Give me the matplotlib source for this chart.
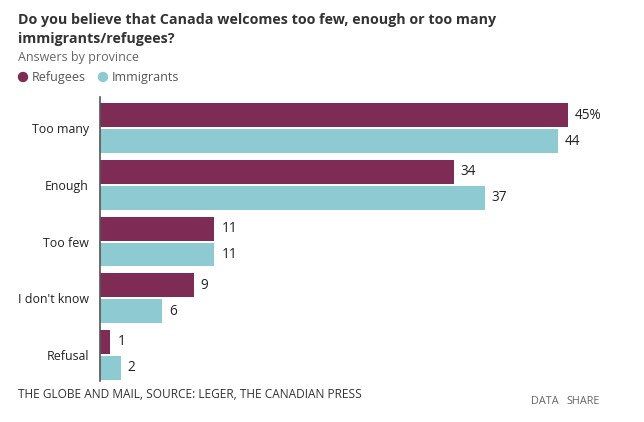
import matplotlib
matplotlib.use("Agg")
import matplotlib.pyplot as plt
from matplotlib.patches import Ellipse
import numpy as np

categories = ["Too many", "Enough", "Too few", "I don't know", "Refusal"]
refugees = [45, 34, 11, 9, 1]
immigrants = [44, 37, 11, 6, 2]
value_labels_ref = ["45%", "34", "11", "9", "1"]
value_labels_imm = ["44", "37", "11", "6", "2"]

C_REF = "#7e2c55"
C_IMM = "#8dcad2"
FONT = "Open Sans"

W, H = 644, 422
fig = plt.figure(figsize=(W / 100, H / 100), dpi=100)
fig.patch.set_facecolor("white")

ax_left, ax_right, ax_top, ax_bot = 100, 620, 97, 381
ax = fig.add_axes([ax_left / W, 1 - ax_bot / H, (ax_right - ax_left) / W, (ax_bot - ax_top) / H])

y = np.arange(len(categories))
h = 0.42
off = 0.228
ax.barh(y - off, refugees, height=h, color=C_REF)
ax.barh(y + off, immigrants, height=h, color=C_IMM)
ax.set_xlim(0, (ax_right - ax_left) / 10.4)
ax.set_ylim(4.46, -0.55)

for yi, v, t in zip(y, refugees, value_labels_ref):
    ax.annotate(t, (v, yi - off), xytext=(7, 0), textcoords="offset pixels",
                va="center", ha="left", fontsize=9.8, family=FONT, color="#222222")
for yi, v, t in zip(y, immigrants, value_labels_imm):
    ax.annotate(t, (v, yi + off), xytext=(7, 0), textcoords="offset pixels",
                va="center", ha="left", fontsize=9.8, family=FONT, color="#222222")

ax.set_yticks(y)
ax.set_yticklabels(categories, family=FONT, fontsize=8.9, color="#222222")
ax.tick_params(axis="y", length=0, pad=8)
ax.set_xticks([])
for s in ["top", "right", "bottom"]:
    ax.spines[s].set_visible(False)
ax.spines["left"].set_color("#555555")
ax.spines["left"].set_linewidth(1.2)

def px(x, yy):
    return x / W, 1 - yy / H

fig.text(*px(18, 24), "Do you believe that Canada welcomes too few, enough or too many",
         fontsize=10.3, fontweight="bold", family=FONT, color="#333333", va="baseline")
fig.text(*px(18, 43), "immigrants/refugees?",
         fontsize=10.3, fontweight="bold", family=FONT, color="#333333", va="baseline")
fig.text(*px(18, 61), "Answers by province", fontsize=9, family=FONT, color="#666666", va="baseline")

fig.patches.append(Ellipse(px(23, 77), 9 / W, 9 / H, transform=fig.transFigure,
                           color=C_REF, figure=fig))
fig.text(*px(32, 81.5), "Refugees", fontsize=9, family=FONT, color="#555555", va="baseline")
fig.patches.append(Ellipse(px(103, 77), 9 / W, 9 / H, transform=fig.transFigure,
                           color=C_IMM, figure=fig))
fig.text(*px(112, 81.5), "Immigrants", fontsize=9, family=FONT, color="#555555", va="baseline")

fig.text(*px(18, 395), "THE GLOBE AND MAIL, SOURCE: LEGER, THE CANADIAN PRESS",
         fontsize=8.6, family=FONT, color="#333333", va="center")
fig.text(*px(531, 401), "DATA", fontsize=7.8, family=FONT, color="#666666", va="center")
fig.text(*px(566, 401), "SHARE", fontsize=7.8, family=FONT, color="#666666", va="center")

fig.savefig("out.png", dpi=100, facecolor="white")
